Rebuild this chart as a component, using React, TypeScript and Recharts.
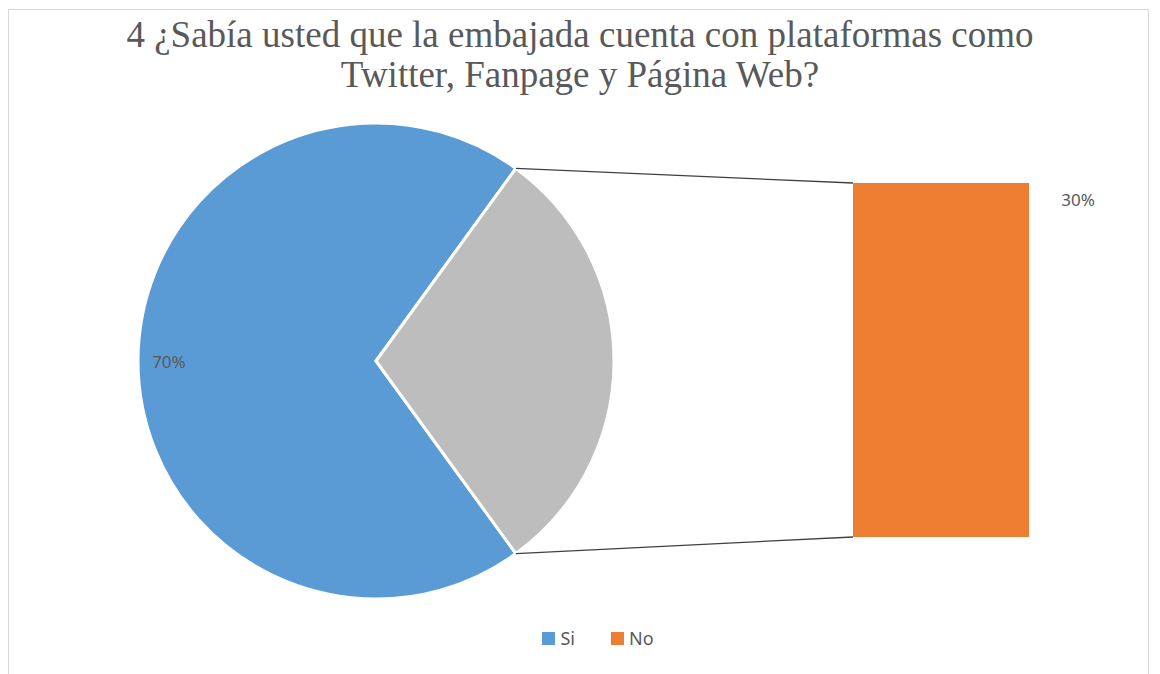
import React from 'react';
import { PieChart, Pie, Cell, BarChart, Bar, XAxis, YAxis, Legend } from 'recharts';

// pie: Si + the part that gets split out into the bar
const pieNames = ['Si', 'No'];
const pieValues = [70, 30];
const pieColors = ['#5B9BD5', '#BDBDBD'];

// bar of pie (the "No" part)
const barNames = ['No'];
const barValues = [30];
const barColors = ['#ED7D31'];

const legendNames = ['Si', 'No'];
const legendColors = ['#5B9BD5', '#ED7D31'];

const W = 1160;
const H = 674;
const PIE_CX = 376;
const PIE_CY = 361;
const PIE_R = 238;
const BAR_LEFT = 853;
const BAR_RIGHT = 1029;
const BAR_TOP = 183;
const BAR_BOTTOM = 537;

const RAD = Math.PI / 180;
const total = pieValues.reduce((a, b) => a + b, 0);
const splitSpan = (pieValues[1] / total) * 360;
const startAngle = splitSpan / 2;

const pieData = pieNames.map((name, i) => ({ name, value: pieValues[i] }));
const barData = [{ name: 'bar', [barNames[0]]: barValues[0] }];

const textColor = '#595959';
const labelFont = "'Noto Sans', sans-serif";

function SliceShape(props: any) {
    const { cx, cy, outerRadius, startAngle: sa, endAngle: ea, fill, index } = props;
    const x0 = cx + outerRadius * Math.cos(-sa * RAD);
    const y0 = cy + outerRadius * Math.sin(-sa * RAD);
    const x1 = cx + outerRadius * Math.cos(-ea * RAD);
    const y1 = cy + outerRadius * Math.sin(-ea * RAD);
    const large = Math.abs(ea - sa) > 180 ? 1 : 0;
    const sweep = ea > sa ? 0 : 1;
    const d = `M${cx},${cy} L${x0},${y0} A${outerRadius},${outerRadius} 0 ${large} ${sweep} ${x1},${y1} Z`;
    return (
        <g>
            <path d={d} fill={fill} stroke="#ffffff" strokeWidth={3} strokeLinejoin="miter" />
            {index === 1 && (
                <g>
                    {/* connector lines to the bar */}
                    <line x1={x1} y1={y1} x2={BAR_LEFT} y2={BAR_TOP} stroke="#404040" strokeWidth={1.3} />
                    <line x1={x0} y1={y0} x2={BAR_LEFT} y2={BAR_BOTTOM} stroke="#404040" strokeWidth={1.3} />
                </g>
            )}
        </g>
    );
}

function PieLabel(props: any) {
    const { cx, cy, midAngle, outerRadius, index, value } = props;
    if (index !== 0) return null;
    const r = outerRadius * 0.87;
    const x = cx + r * Math.cos(-midAngle * RAD);
    const y = cy + r * Math.sin(-midAngle * RAD);
    return (
        <text x={x} y={y} textAnchor="middle" dominantBaseline="central" fill={textColor}
            fontSize={17} fontFamily={labelFont}>
            {`${Math.round((value / total) * 100)}%`}
        </text>
    );
}

function BarLabel(props: any) {
    const { x, y, width, value } = props;
    return (
        <text x={x + width + 49} y={y + 16} textAnchor="middle" dominantBaseline="central" fill={textColor}
            fontSize={17} fontFamily={labelFont}>
            {`${value}%`}
        </text>
    );
}

function LegendContent() {
    return (
        <div style={{ display: 'flex', justifyContent: 'center', gap: 36, paddingLeft: 36, fontFamily: labelFont, fontSize: 18, color: textColor }}>
            {legendNames.map((n, i) => (
                <div key={n} style={{ display: 'flex', alignItems: 'center', gap: 5 }}>
                    <span style={{ width: 13, height: 13, background: legendColors[i], display: 'inline-block' }} />
                    <span>{n}</span>
                </div>
            ))}
        </div>
    );
}

export default function App() {
    return (
        <div style={{ position: 'absolute', left: 0, top: 0, width: W, height: H, background: '#ffffff', overflow: 'hidden' }}>
            <div style={{ position: 'absolute', left: 8, top: 9, width: 1141, height: 700, border: '1px solid #d9d9d9', boxSizing: 'border-box' }} />
            <div style={{
                position: 'absolute', left: 0, top: 15, width: W, textAlign: 'center',
                fontFamily: "'Liberation Serif', 'Times New Roman', serif", fontSize: 37, lineHeight: '40px', color: textColor
            }}>
                4 ¿Sabía usted que la embajada cuenta con plataformas como
                <br />
                Twitter, Fanpage y Página Web?
            </div>
            <div style={{ position: 'absolute', left: 0, top: 0 }}>
                <BarChart width={W} height={H} data={barData}
                    margin={{ top: BAR_TOP, bottom: H - BAR_BOTTOM, left: BAR_LEFT, right: W - BAR_RIGHT }}
                    barCategoryGap={0}>
                    <XAxis dataKey="name" hide />
                    <YAxis hide domain={[0, barValues.reduce((a, b) => a + b, 0)]} />
                    {barNames.map((n, i) => (
                        <Bar key={n} dataKey={n} stackId="a" fill={barColors[i]} isAnimationActive={false}
                            label={<BarLabel />} />
                    ))}
                </BarChart>
            </div>
            <div style={{ position: 'absolute', left: 0, top: 0 }}>
                <PieChart width={W} height={H} margin={{ top: 0, right: 0, bottom: 0, left: 0 }}>
                    <Pie data={pieData} dataKey="value" nameKey="name" cx={PIE_CX} cy={PIE_CY}
                        outerRadius={PIE_R} innerRadius={0}
                        startAngle={startAngle} endAngle={startAngle + 360}
                        shape={<SliceShape />} label={<PieLabel />} labelLine={false}
                        isAnimationActive={false}>
                        {pieData.map((d, i) => (
                            <Cell key={d.name} fill={pieColors[i]} />
                        ))}
                    </Pie>
                    <Legend verticalAlign="bottom" content={<LegendContent />} wrapperStyle={{ bottom: 24 }} />
                </PieChart>
            </div>
        </div>
    );
}
